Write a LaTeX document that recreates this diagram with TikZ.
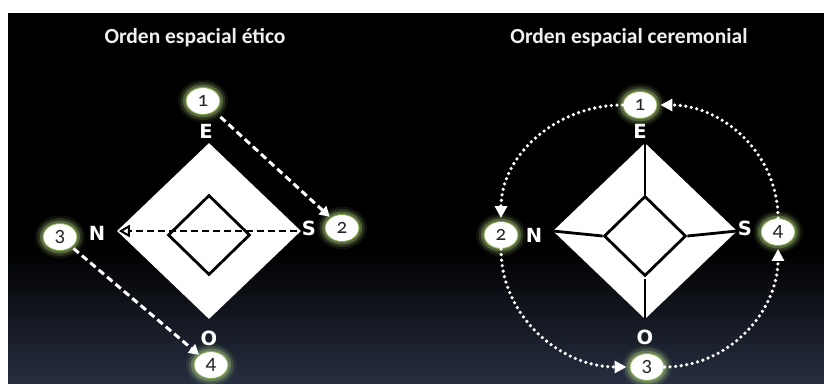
\documentclass[tikz,border=0pt]{standalone}
\usepackage{fontspec}
\setmainfont{Carlito}
\newfontfamily\compassfont{DejaVu Sans}
\newfontfamily\numfont[Numbers=OldStyle]{Carlito}
\usetikzlibrary{arrows.meta,shapes.geometric}

\definecolor{panelbot}{RGB}{38,46,64}
\definecolor{haloGreen}{RGB}{190,228,140}
\definecolor{ringGreen}{RGB}{140,175,85}

\tikzset{
  outerdia/.style={diamond, fill=white, inner sep=0pt,
    minimum width=184pt, minimum height=176pt},
  innerdia/.style={diamond, draw=black, line width=2.8pt, fill=white,
    inner sep=0pt, minimum width=82pt, minimum height=80pt},
  compass/.style={font=\compassfont\bfseries\fontsize{19.5}{19.5}\selectfont,
    text=white, inner sep=0pt},
  paneltitle/.style={font=\bfseries\fontsize{21.5}{22}\selectfont,
    text=white!94!black},
  badge/.style={ellipse, fill=white, draw=ringGreen, line width=0.9pt,
    minimum width=34pt, minimum height=27pt, inner sep=0pt,
    font=\numfont\fontsize{21}{21}\selectfont, text=black!85},
  wdash/.style={draw=white, line width=3pt, dash pattern=on 7pt off 4pt,
    -{Triangle[length=10pt,width=11pt]}},
  bdash/.style={draw=black, line width=2.6pt, dash pattern=on 7pt off 4pt,
    -{Triangle[open,length=11pt,width=12pt,line width=2pt]}},
  wdots/.style={draw=white, line width=3.6pt, line cap=round,
    dash pattern=on 0pt off 5.6pt,
    -{Triangle[length=12pt,width=12pt]}, shorten >=3pt},
  spoke/.style={draw=black, line width=2.8pt}
}

% numbered badge with a soft green halo
\newcommand\numbadge[3]{%
  \foreach \g/\o in {8/0.08,5.5/0.16,3/0.3}{%
    \fill[haloGreen, opacity=\o] (#2) ellipse[x radius=17+\g, y radius=13.5+\g];
  }%
  \node[badge] (#1) at (#2) {#3};%
}

\begin{document}
\begin{tikzpicture}[x=1pt,y=1pt]
  \useasboundingbox (0,0) rectangle (824,-383);

  % background panel
  \fill[white] (0,0) rectangle (824,-383);
  \fill[black] (8,-13) rectangle (824,-252);
  \shade[top color=black, bottom color=panelbot] (8,-250) rectangle (824,-383);

  % titles
  \node[paneltitle] (tleft) at (195,-38) {Orden espacial ético};
  \node[paneltitle] (tright) at (629,-38) {Orden espacial ceremonial};

  % ---------- ethical order ----------
  \node[outerdia] (LO) at (209,-231) {};
  \node[innerdia] (LI) at (209,-235) {};

  \node[compass] (LE) at (206,-131) {E};
  \node[compass] (LN) at (97,-233) {N};
  \node[compass] (LS) at (309,-228) {S};
  \node[compass] (LW) at (209,-338) {O};

  \numbadge{l1}{203,-101}{1}
  \numbadge{l2}{342,-228}{2}
  \numbadge{l3}{60,-237}{3}
  \numbadge{l4}{211,-365}{4}

  \draw[wdash, shorten <=8pt, shorten >=1pt] (l1) -- (l2);
  \draw[wdash, shorten <=2pt] (l3) -- (l4);
  \draw[bdash, shorten <=4pt, shorten >=2pt] (LO.east) -- (LO.west);

  % ---------- ceremonial order ----------
  \node[outerdia] (RO) at (645,-231) {};
  \node[innerdia] (RI) at (645,-236) {};
  \draw[spoke] (RO.north) -- (RI.north);
  \draw[spoke] (RO.west) -- (RI.west);
  \draw[spoke] (RO.east) -- (RI.east);
  \draw[spoke] (RO.south) -- ([yshift=-2pt]RI.south);

  \node[compass] (RE) at (640,-131) {E};
  \node[compass] (RN) at (534,-235) {N};
  \node[compass] (RS) at (745,-228) {S};
  \node[compass] (RW) at (645,-337) {O};

  \numbadge{r1}{640,-105}{1}
  \numbadge{r2}{501,-235}{2}
  \numbadge{r3}{647,-367}{3}
  \numbadge{r4}{778,-232}{4}

  \draw[wdots] (r1.west) to[out=180,in=90] (r2.north);
  \draw[wdots] (r2.south) to[out=-90,in=180] (r3.west);
  \draw[wdots] (r3.east) to[out=0,in=-90] (r4.south);
  \draw[wdots] (r4.north) to[out=90,in=0] (r1.east);
\end{tikzpicture}
\end{document}
